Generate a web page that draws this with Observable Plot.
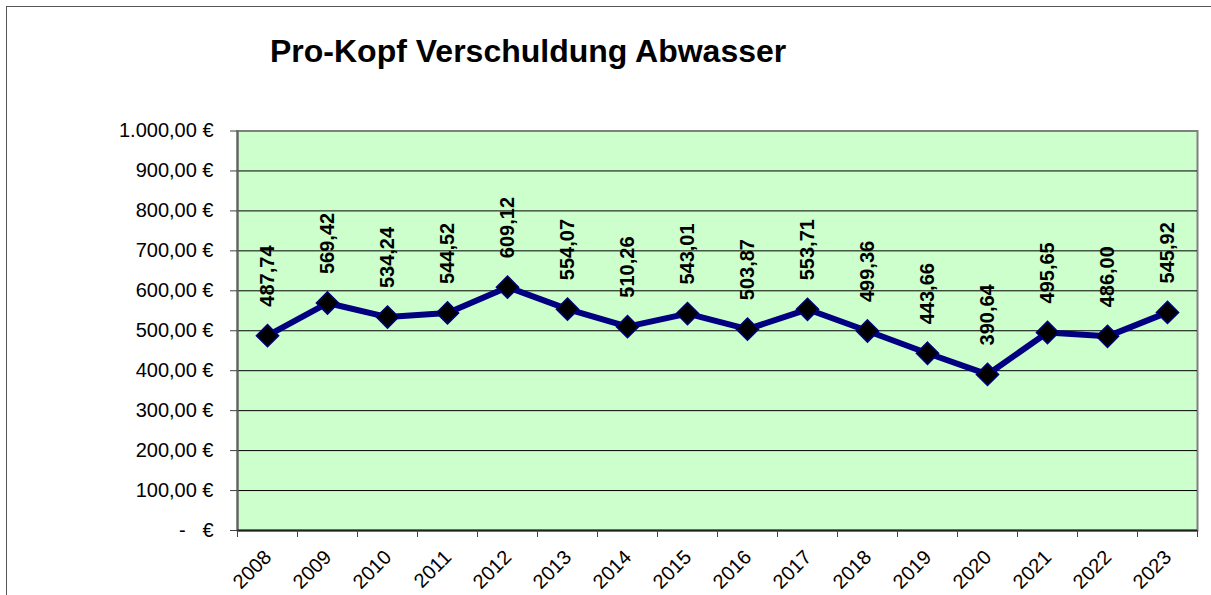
<!DOCTYPE html>
<html><head><meta charset="utf-8">
<script src="https://cdn.jsdelivr.net/npm/d3@7"></script>
<script src="https://cdn.jsdelivr.net/npm/@observablehq/plot@0.6"></script>
<style>
body{margin:0;background:#fff;font-family:"Liberation Sans",Arial,sans-serif;}
#wrap{position:relative;width:1211px;height:595px;overflow:hidden;background:#fff;}
#frame{position:absolute;left:6px;top:6px;width:1300px;height:700px;border-left:1px solid #555;border-top:1px solid #555;}
#title{position:absolute;left:270px;top:35px;font-size:32px;font-weight:bold;line-height:32px;white-space:nowrap;color:#000;}
#chart{position:absolute;left:0;top:90px;}
</style></head><body>
<div id="wrap"><div id="frame"></div><div id="title">Pro-Kopf Verschuldung Abwasser</div><div id="chart"></div></div>
<script>
const years = [2008,2009,2010,2011,2012,2013,2014,2015,2016,2017,2018,2019,2020,2021,2022,2023];
const values = [487.74,569.42,534.24,544.52,609.12,554.07,510.26,543.01,503.87,553.71,499.36,443.66,390.64,495.65,486.00,545.92];
const yTicks = [0,100,200,300,400,500,600,700,800,900,1000];
const yTickLabels = ["-\u00a0\u00a0\u00a0€","100,00 €","200,00 €","300,00 €","400,00 €","500,00 €","600,00 €","700,00 €","800,00 €","900,00 €","1.000,00 €"];

const xBoundaries = years.map(y => y - 0.5).concat([years[years.length - 1] + 0.5]);
const xDomain = [xBoundaries[0], xBoundaries[xBoundaries.length - 1]];
const data = years.map((year, i) => ({year, value: values[i], label: values[i].toFixed(2).replace(".", ",")}));

const chart = Plot.plot({
  width: 1211,
  height: 505,
  marginLeft: 237,
  marginRight: 14,
  marginTop: 40.5,
  marginBottom: 65,
  style: {fontFamily: "'Liberation Sans', Arial, sans-serif", fontSize: "20px", color: "#000", background: "transparent", overflow: "visible"},
  x: {type: "linear", domain: xDomain, label: null},
  y: {domain: [0, 1000], label: null},
  marks: [
    Plot.frame({fill: "#CCFFCC", stroke: "#808080", strokeWidth: 2}),
    Plot.gridY(yTicks.slice(1, -1), {stroke: "#000", strokeOpacity: 1, strokeWidth: 1}),
    Plot.ruleX([xDomain[0]], {stroke: "#606060", strokeWidth: 2}),
    Plot.ruleY([0], {stroke: "#202020", strokeWidth: 2}),
    Plot.line(data, {x: "year", y: "value", stroke: "#000080", strokeWidth: 6}),
    Plot.dot(data, {x: "year", y: "value", symbol: "diamond2", r: 10, fill: "#000", stroke: "#000080", strokeWidth: 1.5}),
    Plot.text(data, {x: "year", y: "value", text: "label", rotate: -90, textAnchor: "start", dy: -29, fontWeight: "bold", fontSize: 20, fill: "#000"}),
    Plot.axisY(yTicks, {tickSize: 7, tickPadding: 17, stroke: "#404040", tickFormat: d => yTickLabels[yTicks.indexOf(d)], fontSize: 20, label: null}),
    Plot.axisX(xBoundaries, {tickSize: 7, stroke: "#404040", tickFormat: () => "", label: null}),
    Plot.text(years, {x: d => d, frameAnchor: "bottom", rotate: -45, textAnchor: "end", lineAnchor: "bottom", dx: 5, dy: 28, fontSize: 20, fill: "#000", text: d => String(d)})
  ]
});
document.getElementById("chart").appendChild(chart);
</script>
</body></html>
